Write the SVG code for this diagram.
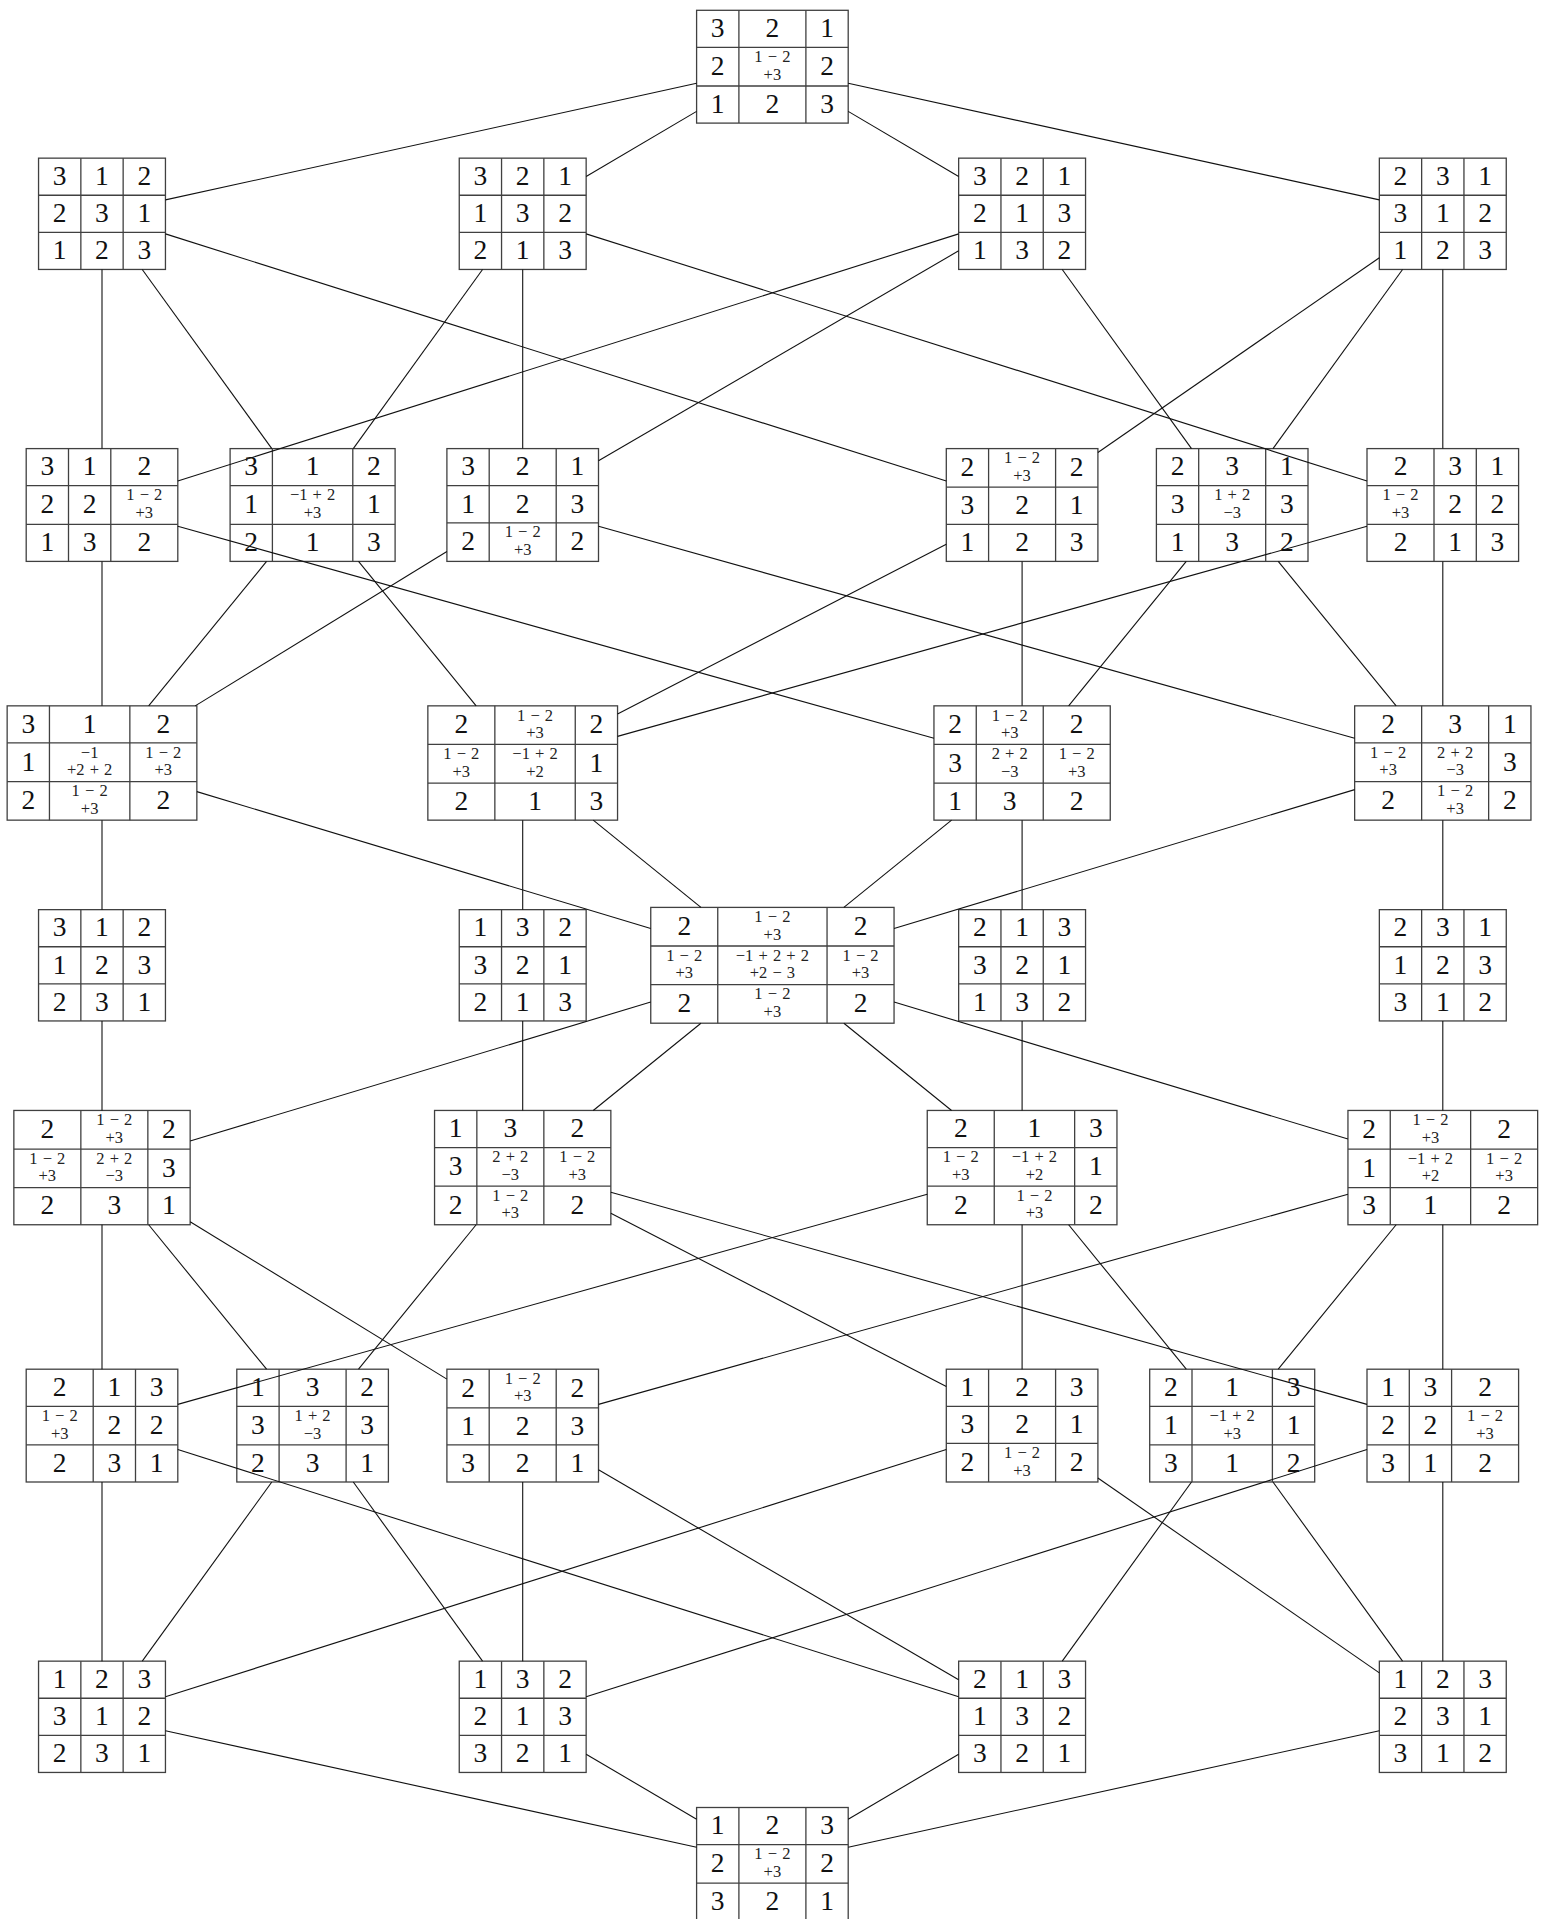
<svg xmlns="http://www.w3.org/2000/svg" width="1542" height="1919" viewBox="0 0 1542 1919">
<style>
.t rect{fill:#fff;stroke:#404040;stroke-width:1.3}
.t path{fill:none;stroke:#404040;stroke-width:1.3}
.b{font-family:"Liberation Serif","Times New Roman",serif;font-size:27.5px;text-anchor:middle;fill:#111}
.s{font-family:"Liberation Serif","Times New Roman",serif;font-size:16.5px;text-anchor:middle;fill:#222;word-spacing:1px}
#connectors line{stroke:#111;stroke-width:1.1;fill:none}
</style>
<rect width="1542" height="1919" fill="#fff"/>
<g id="nodes">
<g id="n0" class="t" transform="translate(696.6,10.3)"><rect width="151.6" height="112.8"/><path d="M42.3 0V112.8M109.3 0V112.8M0 37.1H151.6M0 75.7H151.6"/>
<text class="b" x="21.15" y="26.85">3</text><text class="b" x="75.8" y="26.85">2</text><text class="b" x="130.45" y="26.85">1</text>
<text class="b" x="21.15" y="64.7">2</text><text class="s" x="75.8" y="51.8">1 − 2<tspan x="75.8" y="69.4">+3</tspan></text><text class="b" x="130.45" y="64.7">2</text>
<text class="b" x="21.15" y="102.55">1</text><text class="b" x="75.8" y="102.55">2</text><text class="b" x="130.45" y="102.55">3</text></g>

<g id="b1" class="t" transform="translate(38.55,158.15)"><rect width="126.9" height="111.3"/><path d="M42.3 0V111.3M84.6 0V111.3M0 37.1H126.9M0 74.2H126.9"/>
<text class="b" x="21.15" y="26.85">3</text><text class="b" x="63.45" y="26.85">1</text><text class="b" x="105.75" y="26.85">2</text>
<text class="b" x="21.15" y="63.95">2</text><text class="b" x="63.45" y="63.95">3</text><text class="b" x="105.75" y="63.95">1</text>
<text class="b" x="21.15" y="101.05">1</text><text class="b" x="63.45" y="101.05">2</text><text class="b" x="105.75" y="101.05">3</text></g>
<g id="b2" class="t" transform="translate(459.25,158.15)"><rect width="126.9" height="111.3"/><path d="M42.3 0V111.3M84.6 0V111.3M0 37.1H126.9M0 74.2H126.9"/>
<text class="b" x="21.15" y="26.85">3</text><text class="b" x="63.45" y="26.85">2</text><text class="b" x="105.75" y="26.85">1</text>
<text class="b" x="21.15" y="63.95">1</text><text class="b" x="63.45" y="63.95">3</text><text class="b" x="105.75" y="63.95">2</text>
<text class="b" x="21.15" y="101.05">2</text><text class="b" x="63.45" y="101.05">1</text><text class="b" x="105.75" y="101.05">3</text></g>
<g id="b3" class="t" transform="translate(958.65,158.15)"><rect width="126.9" height="111.3"/><path d="M42.3 0V111.3M84.6 0V111.3M0 37.1H126.9M0 74.2H126.9"/>
<text class="b" x="21.15" y="26.85">3</text><text class="b" x="63.45" y="26.85">2</text><text class="b" x="105.75" y="26.85">1</text>
<text class="b" x="21.15" y="63.95">2</text><text class="b" x="63.45" y="63.95">1</text><text class="b" x="105.75" y="63.95">3</text>
<text class="b" x="21.15" y="101.05">1</text><text class="b" x="63.45" y="101.05">3</text><text class="b" x="105.75" y="101.05">2</text></g>
<g id="b4" class="t" transform="translate(1379.35,158.15)"><rect width="126.9" height="111.3"/><path d="M42.3 0V111.3M84.6 0V111.3M0 37.1H126.9M0 74.2H126.9"/>
<text class="b" x="21.15" y="26.85">2</text><text class="b" x="63.45" y="26.85">3</text><text class="b" x="105.75" y="26.85">1</text>
<text class="b" x="21.15" y="63.95">3</text><text class="b" x="63.45" y="63.95">1</text><text class="b" x="105.75" y="63.95">2</text>
<text class="b" x="21.15" y="101.05">1</text><text class="b" x="63.45" y="101.05">2</text><text class="b" x="105.75" y="101.05">3</text></g>

<g id="c1" class="t" transform="translate(26.2,448.6)"><rect width="151.6" height="112.8"/><path d="M42.3 0V112.8M84.6 0V112.8M0 37.1H151.6M0 75.7H151.6"/>
<text class="b" x="21.15" y="26.85">3</text><text class="b" x="63.45" y="26.85">1</text><text class="b" x="118.1" y="26.85">2</text>
<text class="b" x="21.15" y="64.7">2</text><text class="b" x="63.45" y="64.7">2</text><text class="s" x="118.1" y="51.8">1 − 2<tspan x="118.1" y="69.4">+3</tspan></text>
<text class="b" x="21.15" y="102.55">1</text><text class="b" x="63.45" y="102.55">3</text><text class="b" x="118.1" y="102.55">2</text></g>
<g id="c2" class="t" transform="translate(230.1,448.6)"><rect width="165" height="112.8"/><path d="M42.3 0V112.8M122.7 0V112.8M0 37.1H165M0 75.7H165"/>
<text class="b" x="21.15" y="26.85">3</text><text class="b" x="82.5" y="26.85">1</text><text class="b" x="143.85" y="26.85">2</text>
<text class="b" x="21.15" y="64.7">1</text><text class="s" x="82.5" y="51.8">−1 + 2<tspan x="82.5" y="69.4">+3</tspan></text><text class="b" x="143.85" y="64.7">1</text>
<text class="b" x="21.15" y="102.55">2</text><text class="b" x="82.5" y="102.55">1</text><text class="b" x="143.85" y="102.55">3</text></g>
<g id="c3" class="t" transform="translate(446.9,448.6)"><rect width="151.6" height="112.8"/><path d="M42.3 0V112.8M109.3 0V112.8M0 37.1H151.6M0 74.2H151.6"/>
<text class="b" x="21.15" y="26.85">3</text><text class="b" x="75.8" y="26.85">2</text><text class="b" x="130.45" y="26.85">1</text>
<text class="b" x="21.15" y="63.95">1</text><text class="b" x="75.8" y="63.95">2</text><text class="b" x="130.45" y="63.95">3</text>
<text class="b" x="21.15" y="101.8">2</text><text class="s" x="75.8" y="88.9">1 − 2<tspan x="75.8" y="106.5">+3</tspan></text><text class="b" x="130.45" y="101.8">2</text></g>
<g id="c4" class="t" transform="translate(946.3,448.6)"><rect width="151.6" height="112.8"/><path d="M42.3 0V112.8M109.3 0V112.8M0 38.6H151.6M0 75.7H151.6"/>
<text class="b" x="21.15" y="27.6">2</text><text class="s" x="75.8" y="14.7">1 − 2<tspan x="75.8" y="32.3">+3</tspan></text><text class="b" x="130.45" y="27.6">2</text>
<text class="b" x="21.15" y="65.45">3</text><text class="b" x="75.8" y="65.45">2</text><text class="b" x="130.45" y="65.45">1</text>
<text class="b" x="21.15" y="102.55">1</text><text class="b" x="75.8" y="102.55">2</text><text class="b" x="130.45" y="102.55">3</text></g>
<g id="c5" class="t" transform="translate(1156.4,448.6)"><rect width="151.6" height="112.8"/><path d="M42.3 0V112.8M109.3 0V112.8M0 37.1H151.6M0 75.7H151.6"/>
<text class="b" x="21.15" y="26.85">2</text><text class="b" x="75.8" y="26.85">3</text><text class="b" x="130.45" y="26.85">1</text>
<text class="b" x="21.15" y="64.7">3</text><text class="s" x="75.8" y="51.8">1 + 2<tspan x="75.8" y="69.4">−3</tspan></text><text class="b" x="130.45" y="64.7">3</text>
<text class="b" x="21.15" y="102.55">1</text><text class="b" x="75.8" y="102.55">3</text><text class="b" x="130.45" y="102.55">2</text></g>
<g id="c6" class="t" transform="translate(1367,448.6)"><rect width="151.6" height="112.8"/><path d="M67 0V112.8M109.3 0V112.8M0 37.1H151.6M0 75.7H151.6"/>
<text class="b" x="33.5" y="26.85">2</text><text class="b" x="88.15" y="26.85">3</text><text class="b" x="130.45" y="26.85">1</text>
<text class="s" x="33.5" y="51.8">1 − 2<tspan x="33.5" y="69.4">+3</tspan></text><text class="b" x="88.15" y="64.7">2</text><text class="b" x="130.45" y="64.7">2</text>
<text class="b" x="33.5" y="102.55">2</text><text class="b" x="88.15" y="102.55">1</text><text class="b" x="130.45" y="102.55">3</text></g>

<g id="d1" class="t" transform="translate(7.15,705.85)"><rect width="189.7" height="114.3"/><path d="M42.3 0V114.3M122.7 0V114.3M0 37.1H189.7M0 75.7H189.7"/>
<text class="b" x="21.15" y="26.85">3</text><text class="b" x="82.5" y="26.85">1</text><text class="b" x="156.2" y="26.85">2</text>
<text class="b" x="21.15" y="64.7">1</text><text class="s" x="82.5" y="51.8">−1<tspan x="82.5" y="69.4">+2 + 2</tspan></text><text class="s" x="156.2" y="51.8">1 − 2<tspan x="156.2" y="69.4">+3</tspan></text>
<text class="b" x="21.15" y="103.3">2</text><text class="s" x="82.5" y="90.4">1 − 2<tspan x="82.5" y="108">+3</tspan></text><text class="b" x="156.2" y="103.3">2</text></g>
<g id="d2" class="t" transform="translate(427.85,705.85)"><rect width="189.7" height="114.3"/><path d="M67 0V114.3M147.4 0V114.3M0 38.6H189.7M0 77.2H189.7"/>
<text class="b" x="33.5" y="27.6">2</text><text class="s" x="107.2" y="14.7">1 − 2<tspan x="107.2" y="32.3">+3</tspan></text><text class="b" x="168.55" y="27.6">2</text>
<text class="s" x="33.5" y="53.3">1 − 2<tspan x="33.5" y="70.9">+3</tspan></text><text class="s" x="107.2" y="53.3">−1 + 2<tspan x="107.2" y="70.9">+2</tspan></text><text class="b" x="168.55" y="66.2">1</text>
<text class="b" x="33.5" y="104.05">2</text><text class="b" x="107.2" y="104.05">1</text><text class="b" x="168.55" y="104.05">3</text></g>
<g id="d3" class="t" transform="translate(933.95,705.85)"><rect width="176.3" height="114.3"/><path d="M42.3 0V114.3M109.3 0V114.3M0 38.6H176.3M0 77.2H176.3"/>
<text class="b" x="21.15" y="27.6">2</text><text class="s" x="75.8" y="14.7">1 − 2<tspan x="75.8" y="32.3">+3</tspan></text><text class="b" x="142.8" y="27.6">2</text>
<text class="b" x="21.15" y="66.2">3</text><text class="s" x="75.8" y="53.3">2 + 2<tspan x="75.8" y="70.9">−3</tspan></text><text class="s" x="142.8" y="53.3">1 − 2<tspan x="142.8" y="70.9">+3</tspan></text>
<text class="b" x="21.15" y="104.05">1</text><text class="b" x="75.8" y="104.05">3</text><text class="b" x="142.8" y="104.05">2</text></g>
<g id="d4" class="t" transform="translate(1354.65,705.85)"><rect width="176.3" height="114.3"/><path d="M67 0V114.3M134 0V114.3M0 37.1H176.3M0 75.7H176.3"/>
<text class="b" x="33.5" y="26.85">2</text><text class="b" x="100.5" y="26.85">3</text><text class="b" x="155.15" y="26.85">1</text>
<text class="s" x="33.5" y="51.8">1 − 2<tspan x="33.5" y="69.4">+3</tspan></text><text class="s" x="100.5" y="51.8">2 + 2<tspan x="100.5" y="69.4">−3</tspan></text><text class="b" x="155.15" y="64.7">3</text>
<text class="b" x="33.5" y="103.3">2</text><text class="s" x="100.5" y="90.4">1 − 2<tspan x="100.5" y="108">+3</tspan></text><text class="b" x="155.15" y="103.3">2</text></g>

<g id="e1" class="t" transform="translate(38.55,909.65)"><rect width="126.9" height="111.3"/><path d="M42.3 0V111.3M84.6 0V111.3M0 37.1H126.9M0 74.2H126.9"/>
<text class="b" x="21.15" y="26.85">3</text><text class="b" x="63.45" y="26.85">1</text><text class="b" x="105.75" y="26.85">2</text>
<text class="b" x="21.15" y="63.95">1</text><text class="b" x="63.45" y="63.95">2</text><text class="b" x="105.75" y="63.95">3</text>
<text class="b" x="21.15" y="101.05">2</text><text class="b" x="63.45" y="101.05">3</text><text class="b" x="105.75" y="101.05">1</text></g>
<g id="e2" class="t" transform="translate(459.25,909.65)"><rect width="126.9" height="111.3"/><path d="M42.3 0V111.3M84.6 0V111.3M0 37.1H126.9M0 74.2H126.9"/>
<text class="b" x="21.15" y="26.85">1</text><text class="b" x="63.45" y="26.85">3</text><text class="b" x="105.75" y="26.85">2</text>
<text class="b" x="21.15" y="63.95">3</text><text class="b" x="63.45" y="63.95">2</text><text class="b" x="105.75" y="63.95">1</text>
<text class="b" x="21.15" y="101.05">2</text><text class="b" x="63.45" y="101.05">1</text><text class="b" x="105.75" y="101.05">3</text></g>
<g id="e3" class="t" transform="translate(650.75,907.4)"><rect width="243.3" height="115.8"/><path d="M67 0V115.8M176.3 0V115.8M0 38.6H243.3M0 77.2H243.3"/>
<text class="b" x="33.5" y="27.6">2</text><text class="s" x="121.65" y="14.7">1 − 2<tspan x="121.65" y="32.3">+3</tspan></text><text class="b" x="209.8" y="27.6">2</text>
<text class="s" x="33.5" y="53.3">1 − 2<tspan x="33.5" y="70.9">+3</tspan></text><text class="s" x="121.65" y="53.3">−1 + 2 + 2<tspan x="121.65" y="70.9">+2 − 3</tspan></text><text class="s" x="209.8" y="53.3">1 − 2<tspan x="209.8" y="70.9">+3</tspan></text>
<text class="b" x="33.5" y="104.8">2</text><text class="s" x="121.65" y="91.9">1 − 2<tspan x="121.65" y="109.5">+3</tspan></text><text class="b" x="209.8" y="104.8">2</text></g>
<g id="e4" class="t" transform="translate(958.65,909.65)"><rect width="126.9" height="111.3"/><path d="M42.3 0V111.3M84.6 0V111.3M0 37.1H126.9M0 74.2H126.9"/>
<text class="b" x="21.15" y="26.85">2</text><text class="b" x="63.45" y="26.85">1</text><text class="b" x="105.75" y="26.85">3</text>
<text class="b" x="21.15" y="63.95">3</text><text class="b" x="63.45" y="63.95">2</text><text class="b" x="105.75" y="63.95">1</text>
<text class="b" x="21.15" y="101.05">1</text><text class="b" x="63.45" y="101.05">3</text><text class="b" x="105.75" y="101.05">2</text></g>
<g id="e5" class="t" transform="translate(1379.35,909.65)"><rect width="126.9" height="111.3"/><path d="M42.3 0V111.3M84.6 0V111.3M0 37.1H126.9M0 74.2H126.9"/>
<text class="b" x="21.15" y="26.85">2</text><text class="b" x="63.45" y="26.85">3</text><text class="b" x="105.75" y="26.85">1</text>
<text class="b" x="21.15" y="63.95">1</text><text class="b" x="63.45" y="63.95">2</text><text class="b" x="105.75" y="63.95">3</text>
<text class="b" x="21.15" y="101.05">3</text><text class="b" x="63.45" y="101.05">1</text><text class="b" x="105.75" y="101.05">2</text></g>

<g id="f1" class="t" transform="translate(13.85,1110.45)"><rect width="176.3" height="114.3"/><path d="M67 0V114.3M134 0V114.3M0 38.6H176.3M0 77.2H176.3"/>
<text class="b" x="33.5" y="27.6">2</text><text class="s" x="100.5" y="14.7">1 − 2<tspan x="100.5" y="32.3">+3</tspan></text><text class="b" x="155.15" y="27.6">2</text>
<text class="s" x="33.5" y="53.3">1 − 2<tspan x="33.5" y="70.9">+3</tspan></text><text class="s" x="100.5" y="53.3">2 + 2<tspan x="100.5" y="70.9">−3</tspan></text><text class="b" x="155.15" y="66.2">3</text>
<text class="b" x="33.5" y="104.05">2</text><text class="b" x="100.5" y="104.05">3</text><text class="b" x="155.15" y="104.05">1</text></g>
<g id="f2" class="t" transform="translate(434.55,1110.45)"><rect width="176.3" height="114.3"/><path d="M42.3 0V114.3M109.3 0V114.3M0 37.1H176.3M0 75.7H176.3"/>
<text class="b" x="21.15" y="26.85">1</text><text class="b" x="75.8" y="26.85">3</text><text class="b" x="142.8" y="26.85">2</text>
<text class="b" x="21.15" y="64.7">3</text><text class="s" x="75.8" y="51.8">2 + 2<tspan x="75.8" y="69.4">−3</tspan></text><text class="s" x="142.8" y="51.8">1 − 2<tspan x="142.8" y="69.4">+3</tspan></text>
<text class="b" x="21.15" y="103.3">2</text><text class="s" x="75.8" y="90.4">1 − 2<tspan x="75.8" y="108">+3</tspan></text><text class="b" x="142.8" y="103.3">2</text></g>
<g id="f3" class="t" transform="translate(927.25,1110.45)"><rect width="189.7" height="114.3"/><path d="M67 0V114.3M147.4 0V114.3M0 37.1H189.7M0 75.7H189.7"/>
<text class="b" x="33.5" y="26.85">2</text><text class="b" x="107.2" y="26.85">1</text><text class="b" x="168.55" y="26.85">3</text>
<text class="s" x="33.5" y="51.8">1 − 2<tspan x="33.5" y="69.4">+3</tspan></text><text class="s" x="107.2" y="51.8">−1 + 2<tspan x="107.2" y="69.4">+2</tspan></text><text class="b" x="168.55" y="64.7">1</text>
<text class="b" x="33.5" y="103.3">2</text><text class="s" x="107.2" y="90.4">1 − 2<tspan x="107.2" y="108">+3</tspan></text><text class="b" x="168.55" y="103.3">2</text></g>
<g id="f4" class="t" transform="translate(1347.95,1110.45)"><rect width="189.7" height="114.3"/><path d="M42.3 0V114.3M122.7 0V114.3M0 38.6H189.7M0 77.2H189.7"/>
<text class="b" x="21.15" y="27.6">2</text><text class="s" x="82.5" y="14.7">1 − 2<tspan x="82.5" y="32.3">+3</tspan></text><text class="b" x="156.2" y="27.6">2</text>
<text class="b" x="21.15" y="66.2">1</text><text class="s" x="82.5" y="53.3">−1 + 2<tspan x="82.5" y="70.9">+2</tspan></text><text class="s" x="156.2" y="53.3">1 − 2<tspan x="156.2" y="70.9">+3</tspan></text>
<text class="b" x="21.15" y="104.05">3</text><text class="b" x="82.5" y="104.05">1</text><text class="b" x="156.2" y="104.05">2</text></g>

<g id="g1" class="t" transform="translate(26.2,1369.2)"><rect width="151.6" height="112.8"/><path d="M67 0V112.8M109.3 0V112.8M0 37.1H151.6M0 75.7H151.6"/>
<text class="b" x="33.5" y="26.85">2</text><text class="b" x="88.15" y="26.85">1</text><text class="b" x="130.45" y="26.85">3</text>
<text class="s" x="33.5" y="51.8">1 − 2<tspan x="33.5" y="69.4">+3</tspan></text><text class="b" x="88.15" y="64.7">2</text><text class="b" x="130.45" y="64.7">2</text>
<text class="b" x="33.5" y="102.55">2</text><text class="b" x="88.15" y="102.55">3</text><text class="b" x="130.45" y="102.55">1</text></g>
<g id="g2" class="t" transform="translate(236.8,1369.2)"><rect width="151.6" height="112.8"/><path d="M42.3 0V112.8M109.3 0V112.8M0 37.1H151.6M0 75.7H151.6"/>
<text class="b" x="21.15" y="26.85">1</text><text class="b" x="75.8" y="26.85">3</text><text class="b" x="130.45" y="26.85">2</text>
<text class="b" x="21.15" y="64.7">3</text><text class="s" x="75.8" y="51.8">1 + 2<tspan x="75.8" y="69.4">−3</tspan></text><text class="b" x="130.45" y="64.7">3</text>
<text class="b" x="21.15" y="102.55">2</text><text class="b" x="75.8" y="102.55">3</text><text class="b" x="130.45" y="102.55">1</text></g>
<g id="g3" class="t" transform="translate(446.9,1369.2)"><rect width="151.6" height="112.8"/><path d="M42.3 0V112.8M109.3 0V112.8M0 38.6H151.6M0 75.7H151.6"/>
<text class="b" x="21.15" y="27.6">2</text><text class="s" x="75.8" y="14.7">1 − 2<tspan x="75.8" y="32.3">+3</tspan></text><text class="b" x="130.45" y="27.6">2</text>
<text class="b" x="21.15" y="65.45">1</text><text class="b" x="75.8" y="65.45">2</text><text class="b" x="130.45" y="65.45">3</text>
<text class="b" x="21.15" y="102.55">3</text><text class="b" x="75.8" y="102.55">2</text><text class="b" x="130.45" y="102.55">1</text></g>
<g id="g4" class="t" transform="translate(946.3,1369.2)"><rect width="151.6" height="112.8"/><path d="M42.3 0V112.8M109.3 0V112.8M0 37.1H151.6M0 74.2H151.6"/>
<text class="b" x="21.15" y="26.85">1</text><text class="b" x="75.8" y="26.85">2</text><text class="b" x="130.45" y="26.85">3</text>
<text class="b" x="21.15" y="63.95">3</text><text class="b" x="75.8" y="63.95">2</text><text class="b" x="130.45" y="63.95">1</text>
<text class="b" x="21.15" y="101.8">2</text><text class="s" x="75.8" y="88.9">1 − 2<tspan x="75.8" y="106.5">+3</tspan></text><text class="b" x="130.45" y="101.8">2</text></g>
<g id="g5" class="t" transform="translate(1149.7,1369.2)"><rect width="165" height="112.8"/><path d="M42.3 0V112.8M122.7 0V112.8M0 37.1H165M0 75.7H165"/>
<text class="b" x="21.15" y="26.85">2</text><text class="b" x="82.5" y="26.85">1</text><text class="b" x="143.85" y="26.85">3</text>
<text class="b" x="21.15" y="64.7">1</text><text class="s" x="82.5" y="51.8">−1 + 2<tspan x="82.5" y="69.4">+3</tspan></text><text class="b" x="143.85" y="64.7">1</text>
<text class="b" x="21.15" y="102.55">3</text><text class="b" x="82.5" y="102.55">1</text><text class="b" x="143.85" y="102.55">2</text></g>
<g id="g6" class="t" transform="translate(1367,1369.2)"><rect width="151.6" height="112.8"/><path d="M42.3 0V112.8M84.6 0V112.8M0 37.1H151.6M0 75.7H151.6"/>
<text class="b" x="21.15" y="26.85">1</text><text class="b" x="63.45" y="26.85">3</text><text class="b" x="118.1" y="26.85">2</text>
<text class="b" x="21.15" y="64.7">2</text><text class="b" x="63.45" y="64.7">2</text><text class="s" x="118.1" y="51.8">1 − 2<tspan x="118.1" y="69.4">+3</tspan></text>
<text class="b" x="21.15" y="102.55">3</text><text class="b" x="63.45" y="102.55">1</text><text class="b" x="118.1" y="102.55">2</text></g>

<g id="h1" class="t" transform="translate(38.55,1661.15)"><rect width="126.9" height="111.3"/><path d="M42.3 0V111.3M84.6 0V111.3M0 37.1H126.9M0 74.2H126.9"/>
<text class="b" x="21.15" y="26.85">1</text><text class="b" x="63.45" y="26.85">2</text><text class="b" x="105.75" y="26.85">3</text>
<text class="b" x="21.15" y="63.95">3</text><text class="b" x="63.45" y="63.95">1</text><text class="b" x="105.75" y="63.95">2</text>
<text class="b" x="21.15" y="101.05">2</text><text class="b" x="63.45" y="101.05">3</text><text class="b" x="105.75" y="101.05">1</text></g>
<g id="h2" class="t" transform="translate(459.25,1661.15)"><rect width="126.9" height="111.3"/><path d="M42.3 0V111.3M84.6 0V111.3M0 37.1H126.9M0 74.2H126.9"/>
<text class="b" x="21.15" y="26.85">1</text><text class="b" x="63.45" y="26.85">3</text><text class="b" x="105.75" y="26.85">2</text>
<text class="b" x="21.15" y="63.95">2</text><text class="b" x="63.45" y="63.95">1</text><text class="b" x="105.75" y="63.95">3</text>
<text class="b" x="21.15" y="101.05">3</text><text class="b" x="63.45" y="101.05">2</text><text class="b" x="105.75" y="101.05">1</text></g>
<g id="h3" class="t" transform="translate(958.65,1661.15)"><rect width="126.9" height="111.3"/><path d="M42.3 0V111.3M84.6 0V111.3M0 37.1H126.9M0 74.2H126.9"/>
<text class="b" x="21.15" y="26.85">2</text><text class="b" x="63.45" y="26.85">1</text><text class="b" x="105.75" y="26.85">3</text>
<text class="b" x="21.15" y="63.95">1</text><text class="b" x="63.45" y="63.95">3</text><text class="b" x="105.75" y="63.95">2</text>
<text class="b" x="21.15" y="101.05">3</text><text class="b" x="63.45" y="101.05">2</text><text class="b" x="105.75" y="101.05">1</text></g>
<g id="h4" class="t" transform="translate(1379.35,1661.15)"><rect width="126.9" height="111.3"/><path d="M42.3 0V111.3M84.6 0V111.3M0 37.1H126.9M0 74.2H126.9"/>
<text class="b" x="21.15" y="26.85">1</text><text class="b" x="63.45" y="26.85">2</text><text class="b" x="105.75" y="26.85">3</text>
<text class="b" x="21.15" y="63.95">2</text><text class="b" x="63.45" y="63.95">3</text><text class="b" x="105.75" y="63.95">1</text>
<text class="b" x="21.15" y="101.05">3</text><text class="b" x="63.45" y="101.05">1</text><text class="b" x="105.75" y="101.05">2</text></g>

<g id="i0" class="t" transform="translate(696.6,1807.5)"><rect width="151.6" height="112.8"/><path d="M42.3 0V112.8M109.3 0V112.8M0 37.1H151.6M0 75.7H151.6"/>
<text class="b" x="21.15" y="26.85">1</text><text class="b" x="75.8" y="26.85">2</text><text class="b" x="130.45" y="26.85">3</text>
<text class="b" x="21.15" y="64.7">2</text><text class="s" x="75.8" y="51.8">1 − 2<tspan x="75.8" y="69.4">+3</tspan></text><text class="b" x="130.45" y="64.7">2</text>
<text class="b" x="21.15" y="102.55">3</text><text class="b" x="75.8" y="102.55">2</text><text class="b" x="130.45" y="102.55">1</text></g>
</g>

<g id="connectors">
<line x1="696.6" y1="83.3" x2="165.45" y2="199.9"/>
<line x1="696.6" y1="111.35" x2="586.15" y2="176.42"/>
<line x1="848.2" y1="111.35" x2="958.65" y2="176.42"/>
<line x1="848.2" y1="83.3" x2="1379.35" y2="199.9"/>
<line x1="102" y1="269.45" x2="102" y2="448.6"/>
<line x1="142.25" y1="269.45" x2="271.81" y2="448.6"/>
<line x1="165.45" y1="233.88" x2="946.3" y2="481.01"/>
<line x1="482.55" y1="269.45" x2="353.29" y2="448.6"/>
<line x1="522.7" y1="269.45" x2="522.7" y2="448.6"/>
<line x1="586.15" y1="233.88" x2="1367" y2="481.01"/>
<line x1="958.65" y1="233.88" x2="177.8" y2="481.01"/>
<line x1="958.65" y1="250.8" x2="598.5" y2="460.8"/>
<line x1="1062.25" y1="269.45" x2="1191.51" y2="448.6"/>
<line x1="1379.35" y1="257.72" x2="1097.9" y2="452.53"/>
<line x1="1402.55" y1="269.45" x2="1272.99" y2="448.6"/>
<line x1="1442.8" y1="269.45" x2="1442.8" y2="448.6"/>
<line x1="102" y1="561.4" x2="102" y2="705.85"/>
<line x1="177.8" y1="526.25" x2="933.95" y2="738.28"/>
<line x1="266.56" y1="561.4" x2="148.65" y2="705.85"/>
<line x1="358.53" y1="561.4" x2="476.16" y2="705.85"/>
<line x1="446.9" y1="551.49" x2="195.19" y2="705.85"/>
<line x1="598.5" y1="526.25" x2="1354.65" y2="738.28"/>
<line x1="946.3" y1="544.16" x2="617.55" y2="714"/>
<line x1="1022.1" y1="561.4" x2="1022.1" y2="705.85"/>
<line x1="1186.27" y1="561.4" x2="1068.64" y2="705.85"/>
<line x1="1278.24" y1="561.4" x2="1396.15" y2="705.85"/>
<line x1="1367" y1="526.25" x2="617.55" y2="736.4"/>
<line x1="1442.8" y1="561.4" x2="1442.8" y2="705.85"/>
<line x1="102" y1="820.15" x2="102" y2="909.65"/>
<line x1="196.85" y1="791.62" x2="650.75" y2="928.59"/>
<line x1="522.7" y1="820.15" x2="522.7" y2="909.65"/>
<line x1="593.24" y1="820.15" x2="700.93" y2="907.4"/>
<line x1="951.56" y1="820.15" x2="843.87" y2="907.4"/>
<line x1="1022.1" y1="820.15" x2="1022.1" y2="909.65"/>
<line x1="1354.65" y1="789.6" x2="894.05" y2="928.59"/>
<line x1="1442.8" y1="820.15" x2="1442.8" y2="909.65"/>
<line x1="102" y1="1020.95" x2="102" y2="1110.45"/>
<line x1="522.7" y1="1020.95" x2="522.7" y2="1110.45"/>
<line x1="650.75" y1="1002.01" x2="190.15" y2="1141"/>
<line x1="700.93" y1="1023.2" x2="593.24" y2="1110.45"/>
<line x1="843.87" y1="1023.2" x2="951.56" y2="1110.45"/>
<line x1="894.05" y1="1002.01" x2="1347.95" y2="1138.98"/>
<line x1="1022.1" y1="1020.95" x2="1022.1" y2="1110.45"/>
<line x1="1442.8" y1="1020.95" x2="1442.8" y2="1110.45"/>
<line x1="102" y1="1224.75" x2="102" y2="1369.2"/>
<line x1="148.65" y1="1224.75" x2="266.56" y2="1369.2"/>
<line x1="190.15" y1="1221.66" x2="446.9" y2="1379.11"/>
<line x1="476.16" y1="1224.75" x2="358.53" y2="1369.2"/>
<line x1="610.85" y1="1213.14" x2="946.3" y2="1386.44"/>
<line x1="610.85" y1="1192.32" x2="1367" y2="1404.35"/>
<line x1="927.25" y1="1194.2" x2="177.8" y2="1404.35"/>
<line x1="1022.1" y1="1224.75" x2="1022.1" y2="1369.2"/>
<line x1="1068.64" y1="1224.75" x2="1186.27" y2="1369.2"/>
<line x1="1347.95" y1="1194.2" x2="598.5" y2="1404.35"/>
<line x1="1396.15" y1="1224.75" x2="1278.24" y2="1369.2"/>
<line x1="1442.8" y1="1224.75" x2="1442.8" y2="1369.2"/>
<line x1="102" y1="1482" x2="102" y2="1661.15"/>
<line x1="177.8" y1="1449.59" x2="958.65" y2="1696.72"/>
<line x1="271.81" y1="1482" x2="142.25" y2="1661.15"/>
<line x1="353.29" y1="1482" x2="482.55" y2="1661.15"/>
<line x1="522.7" y1="1482" x2="522.7" y2="1661.15"/>
<line x1="598.5" y1="1469.8" x2="958.65" y2="1679.8"/>
<line x1="946.3" y1="1449.59" x2="165.45" y2="1696.72"/>
<line x1="1097.9" y1="1478.07" x2="1379.35" y2="1672.88"/>
<line x1="1191.51" y1="1482" x2="1062.25" y2="1661.15"/>
<line x1="1272.99" y1="1482" x2="1402.55" y2="1661.15"/>
<line x1="1367" y1="1449.59" x2="586.15" y2="1696.72"/>
<line x1="1442.8" y1="1482" x2="1442.8" y2="1661.15"/>
<line x1="165.45" y1="1730.7" x2="696.6" y2="1847.3"/>
<line x1="586.15" y1="1754.18" x2="696.6" y2="1819.25"/>
<line x1="958.65" y1="1754.18" x2="848.2" y2="1819.25"/>
<line x1="1379.35" y1="1730.7" x2="848.2" y2="1847.3"/>
</g>
</svg>
